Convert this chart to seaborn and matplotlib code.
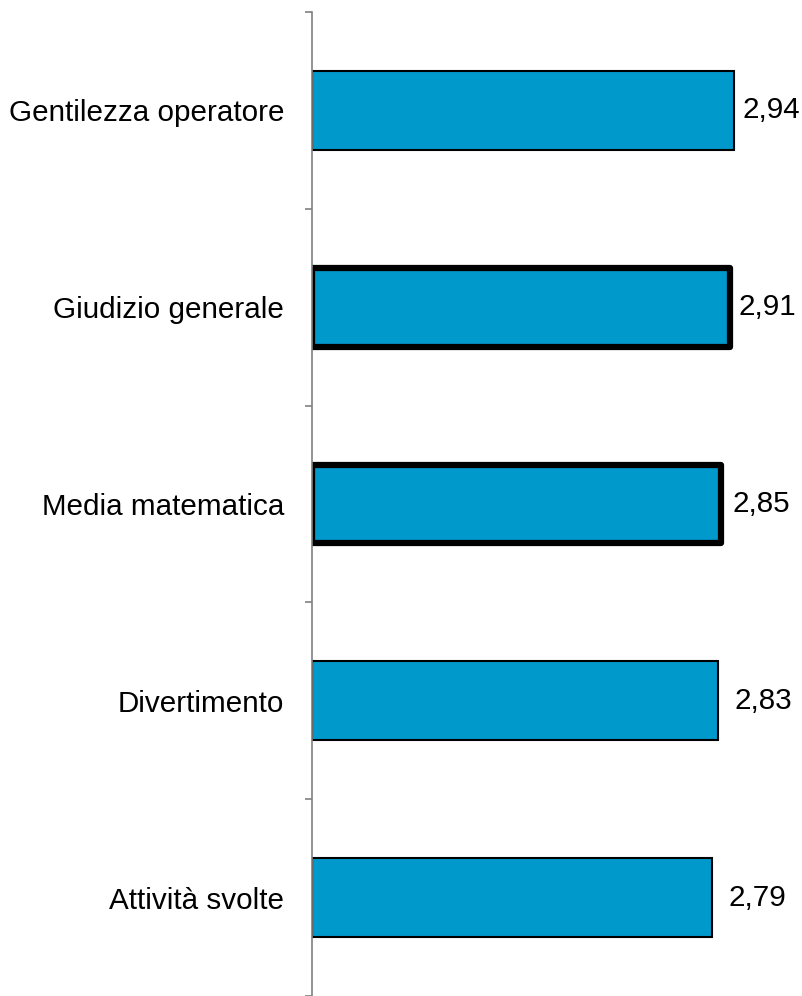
import matplotlib.pyplot as plt
import seaborn as sns
import pandas as pd
import numpy as np

categories = ['Gentilezza operatore', 'Giudizio generale', 'Media matematica',
              'Divertimento', 'Attività svolte']
values = [2.94, 2.91, 2.85, 2.83, 2.79]
value_labels = ['2,94', '2,91', '2,85', '2,83', '2,79']
thick_border = [False, True, True, False, False]

df = pd.DataFrame({'categoria': categories, 'valore': values})

sns.set_style('white')
plt.rcParams['font.family'] = ['Liberation Sans', 'DejaVu Sans']
plt.rcParams['text.color'] = 'black'
plt.rcParams['ytick.labelcolor'] = 'black'

fig = plt.figure(figsize=(8.02, 9.96), dpi=100)
ax = fig.add_axes([312 / 802, 0, 478 / 802, 984 / 996])

sns.barplot(data=df, x='valore', y='categoria', orient='h', color='#0099CC',
            saturation=1, width=0.4, edgecolor='black', linewidth=1.5, ax=ax)

# thicker outline on the two highlighted bars
for patch, thick in zip(ax.patches, thick_border):
    if thick:
        patch.set_linewidth(4.5)
        patch.set_joinstyle('round')

# label gaps (px) as they sit in the original
gaps = [9, 9, 12, 16, 16]
for i, (v, lab) in enumerate(zip(values, value_labels)):
    ax.annotate(lab, xy=(v, i), xytext=(gaps[i] * 0.72, 0), textcoords='offset points',
                va='center', ha='left', fontsize=21.3, color='black')

ax.set_xlim(0, 478 / 143.5)
ax.set_ylim(len(categories) - 0.5, -0.5)
ax.set_xlabel('')
ax.set_ylabel('')
ax.set_xticks([])

# labels at category centres, tick marks at the boundaries
ax.tick_params(axis='y', which='major', length=0, pad=20, labelsize=21.3, labelcolor='black')
ax.set_yticks(np.arange(-0.5, len(categories) + 0.5, 1), minor=True)
ax.tick_params(axis='y', which='minor', left=True, length=5, width=1.2, color='#808080')

for side in ['top', 'right', 'bottom']:
    ax.spines[side].set_visible(False)
ax.spines['left'].set_color('#808080')
ax.spines['left'].set_linewidth(1.2)

fig.savefig('out.png', dpi=100)
